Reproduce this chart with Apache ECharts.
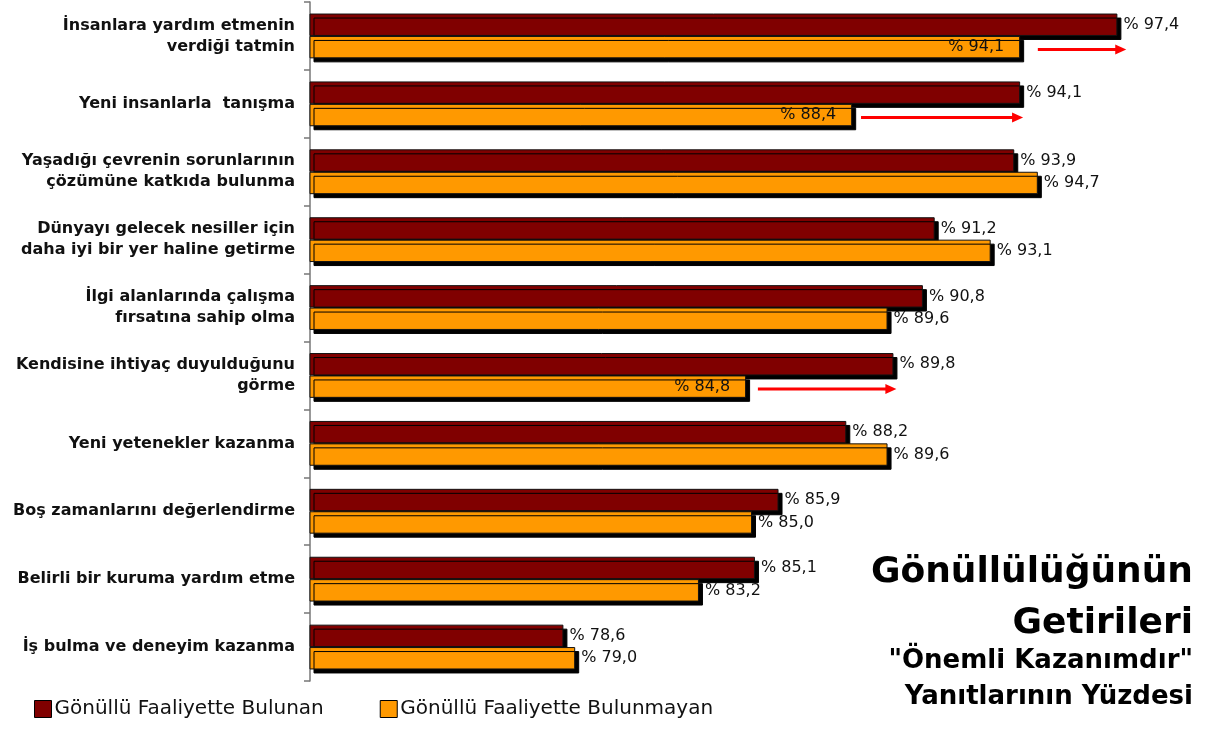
<!DOCTYPE html>
<html>
<head>
<meta charset="utf-8">
<script src="https://cdn.jsdelivr.net/npm/echarts@6/dist/echarts.min.js"></script>
<style>
  html, body { margin: 0; padding: 0; background: #fff; }
  #chart { width: 1210px; height: 729px; }
</style>
</head>
<body>
<div id="chart"></div>
<script>
const categories = [
  "İnsanlara yardım etmenin\nverdiği tatmin",
  "Yeni insanlarla  tanışma",
  "Yaşadığı çevrenin sorunlarının\nçözümüne katkıda bulunma",
  "Dünyayı gelecek nesiller için\ndaha iyi bir yer haline getirme",
  "İlgi alanlarında çalışma\nfırsatına sahip olma",
  "Kendisine ihtiyaç duyulduğunu\ngörme",
  "Yeni yetenekler kazanma",
  "Boş zamanlarını değerlendirme",
  "Belirli bir kuruma yardım etme",
  "İş bulma ve deneyim kazanma"
];
const seriesNames = ["Gönüllü Faaliyette Bulunan", "Gönüllü Faaliyette Bulunmayan"];
const bulunan = [97.4, 94.1, 93.9, 91.2, 90.8, 89.8, 88.2, 85.9, 85.1, 78.6];
const bulunmayan = [94.1, 88.4, 94.7, 93.1, 89.6, 84.8, 89.6, 85.0, 83.2, 79.0];
// orange bars whose value label sits inside the bar
const insideLabels = [0, 1, 5];
// red arrows: [category index, from value, to value]
const arrows = [
  [0, 94.7, 97.7],
  [1, 88.7, 94.2],
  [5, 85.2, 89.9]
];

const FONT = '"DejaVu Sans", Verdana, sans-serif';

function fmt(v) {
  return "% " + v.toFixed(1).replace(".", ",");
}

const barStyle = {
  borderColor: "#111",
  borderWidth: 1,
  shadowColor: "#000",
  shadowBlur: 0,
  shadowOffsetX: 4,
  shadowOffsetY: 4
};

let myChart = echarts.init(document.getElementById("chart"));
myChart.setOption({
  animation: false,
  textStyle: { fontFamily: FONT },
  grid: { left: 310, right: 16, top: 2, bottom: 48, containLabel: false },
  legend: {
    data: seriesNames,
    left: 34,
    top: 699,
    padding: 0,
    itemWidth: 17,
    itemHeight: 17,
    itemGap: 56,
    icon: "rect",
    itemStyle: { borderColor: "#000", borderWidth: 1, shadowColor: "transparent", shadowOffsetX: 0, shadowOffsetY: 0 },
    textStyle: { fontFamily: FONT, fontSize: 20, color: "#111", padding: [0, 0, 0, -2] }
  },
  xAxis: {
    type: "value",
    min: 70,
    max: 100,
    show: false
  },
  yAxis: {
    type: "category",
    inverse: true,
    data: categories,
    axisLine: { lineStyle: { color: "#777", width: 1.5 } },
    axisTick: { show: true, length: 6, lineStyle: { color: "#777", width: 1.5 } },
    axisLabel: {
      margin: 15,
      fontFamily: FONT,
      fontWeight: "bold",
      fontSize: 16,
      lineHeight: 21,
      color: "#111"
    }
  },
  series: [
    {
      name: seriesNames[0],
      type: "bar",
      data: bulunan,
      barGap: 0,
      barCategoryGap: "34%",
      itemStyle: Object.assign({ color: "#800000" }, barStyle),
      label: {
        show: true,
        position: "right",
        distance: 6,
        fontFamily: FONT,
        fontSize: 16,
        color: "#111",
        formatter: p => fmt(p.value)
      },
      z: 2
    },
    {
      name: seriesNames[1],
      type: "bar",
      data: bulunmayan.map((v, i) => insideLabels.includes(i)
        ? { value: v, label: { position: "insideRight", distance: 16 } }
        : v),
      itemStyle: Object.assign({ color: "#FF9900" }, barStyle),
      label: {
        show: true,
        position: "right",
        distance: 6,
        fontFamily: FONT,
        fontSize: 16,
        color: "#111",
        formatter: p => fmt(p.value)
      },
      z: 3
    },
    {
      type: "custom",
      data: arrows,
      encode: { x: [1, 2], y: 0 },
      silent: true,
      z: 5,
      renderItem: function (params, api) {
        let a = api.coord([api.value(1), api.value(0)]);
        let b = api.coord([api.value(2), api.value(0)]);
        let band = api.size([0, 1])[1];
        let y = a[1] + band * 0.2;
        return {
          type: "group",
          children: [
            {
              type: "line",
              shape: { x1: a[0], y1: y, x2: b[0] - 8, y2: y },
              style: { stroke: "#FF0000", lineWidth: 3 }
            },
            {
              type: "polygon",
              shape: { points: [[b[0] - 11, y - 5], [b[0], y], [b[0] - 11, y + 5]] },
              style: { fill: "#FF0000" }
            }
          ]
        };
      }
    }
  ],
  graphic: [
    {
      type: "text",
      right: 17,
      top: 547,
      style: {
        text: "Gönüllülüğünün\nGetirileri",
        font: "bold 36px " + FONT,
        lineHeight: 51,
        textAlign: "right",
        fill: "#000"
      }
    },
    {
      type: "text",
      right: 17,
      top: 643,
      style: {
        text: "\"Önemli Kazanımdır\"\nYanıtlarının Yüzdesi",
        font: "bold 26px " + FONT,
        lineHeight: 36,
        textAlign: "right",
        fill: "#000"
      }
    }
  ]
});
</script>
</body>
</html>
